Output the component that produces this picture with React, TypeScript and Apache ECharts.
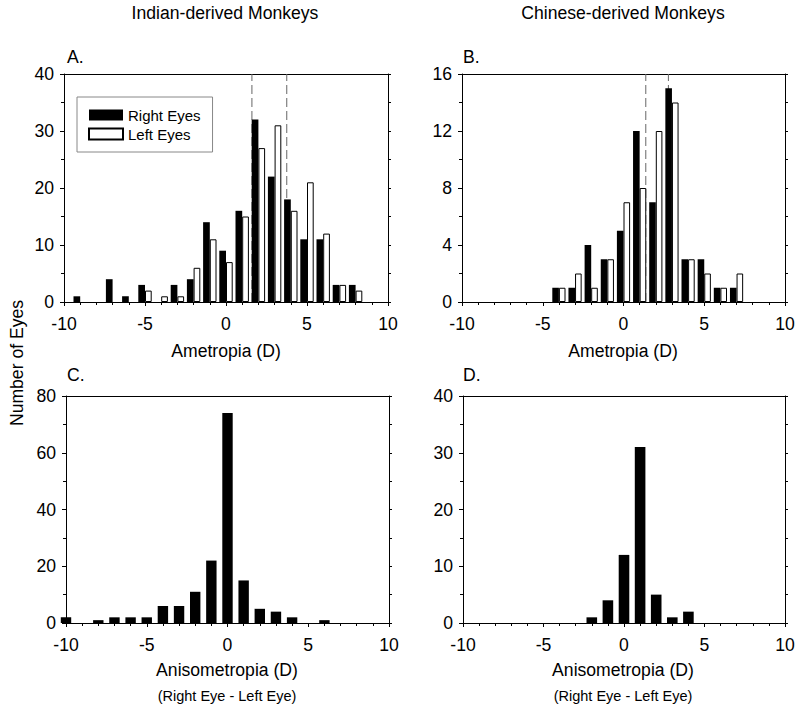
import React, { useEffect, useRef } from 'react';
import * as echarts from 'echarts';

// Panel A: Indian-derived monkeys, ametropia (D), bin centres and counts
const indianBins = [-9, -8, -7, -6, -5, -4, -3, -2, -1, 0, 1, 2, 3, 4, 5, 6, 7, 8];
const indianRight = [1, 0, 4, 1, 3, 0, 3, 4, 14, 9, 16, 32, 22, 18, 11, 11, 3, 3];
const indianLeft = [0, 0, 0, 0, 2, 1, 1, 6, 11, 7, 15, 27, 31, 16, 21, 12, 3, 2];
const indianRefLines = [1.6, 3.75];

// Panel B: Chinese-derived monkeys, ametropia (D)
const chineseBins = [-4, -3, -2, -1, 0, 1, 2, 3, 4, 5, 6, 7];
const chineseRight = [1, 1, 4, 3, 5, 12, 7, 15, 3, 3, 1, 1];
const chineseLeft = [1, 2, 1, 3, 7, 8, 12, 14, 3, 2, 1, 2];
const chineseRefLines = [1.38, 2.78];

// Panel C: Indian-derived anisometropia (right - left)
const anisoIndianBins = [-10, -9, -8, -7, -6, -5, -4, -3, -2, -1, 0, 1, 2, 3, 4, 5, 6];
const anisoIndianCounts = [2, 0, 1, 2, 2, 2, 6, 6, 11, 22, 74, 15, 5, 4, 2, 0, 1];

// Panel D: Chinese-derived anisometropia
const anisoChineseBins = [-2, -1, 0, 1, 2, 3, 4];
const anisoChineseCounts = [1, 4, 12, 31, 5, 1, 2];

const xMin = -10;
const xMax = 10;
const xInterval = 5;
const yMaxes = [40, 16, 80, 40];
const yIntervals = [10, 4, 20, 10];

const FONT = '"Liberation Sans", Arial, Helvetica, sans-serif';
const FS = 17.6;

const grids = [
  { left: 64, top: 74, width: 324, height: 228 },
  { left: 462, top: 74, width: 323, height: 228 },
  { left: 66, top: 396, width: 323, height: 227 },
  { left: 463, top: 396, width: 322, height: 227 },
];

const pairs = (bins: number[], vals: number[]) =>
  bins.map((b, i) => [b, vals[i]]).filter((d) => d[1] > 0);

function buildOption() {
  const xAxis: any[] = [];
  const yAxis: any[] = [];
  grids.forEach((_, g) => {
    xAxis.push({
      gridIndex: g,
      type: 'value',
      position: 'bottom',
      min: xMin,
      max: xMax,
      interval: xInterval,
      axisLine: { show: true, onZero: false, lineStyle: { color: '#000', width: 1 } },
      axisTick: { show: true, length: 4, lineStyle: { color: '#000' } },
      minorTick: { show: true, splitNumber: 5, length: 3, lineStyle: { color: '#000' } },
      splitLine: { show: false },
      axisLabel: { fontSize: FS, color: '#000', margin: 13, fontFamily: FONT },
    });
    xAxis.push({
      gridIndex: g,
      type: 'value',
      position: 'top',
      min: xMin,
      max: xMax,
      interval: xInterval,
      axisLine: { show: true, onZero: false, lineStyle: { color: '#000', width: 1 } },
      axisTick: { show: false },
      axisLabel: { show: false },
      splitLine: { show: false },
    });
    yAxis.push({
      gridIndex: g,
      type: 'value',
      position: 'left',
      min: 0,
      max: yMaxes[g],
      interval: yIntervals[g],
      axisLine: { show: true, onZero: false, lineStyle: { color: '#000', width: 1 } },
      axisTick: { show: true, length: 4, lineStyle: { color: '#000' } },
      minorTick: { show: true, splitNumber: 2, length: 3, lineStyle: { color: '#000' } },
      splitLine: { show: false },
      axisLabel: { fontSize: FS, color: '#000', margin: 10, fontFamily: FONT },
    });
    yAxis.push({
      gridIndex: g,
      type: 'value',
      position: 'right',
      min: 0,
      max: yMaxes[g],
      interval: yIntervals[g],
      axisLine: { show: true, onZero: false, lineStyle: { color: '#000', width: 1 } },
      axisTick: { show: true, length: 3, lineStyle: { color: '#000' } },
      minorTick: { show: true, splitNumber: 2, length: 3, lineStyle: { color: '#000' } },
      splitLine: { show: false },
      axisLabel: { show: false },
    });
  });

  const blackStyle = { color: '#000' };
  const whiteStyle = { color: '#fff', borderColor: '#000', borderWidth: 1 };

  const refLine = (g: number, x: number) => ({
    type: 'line',
    xAxisIndex: g * 2,
    yAxisIndex: g * 2,
    data: [
      [x, 0],
      [x, yMaxes[g]],
    ],
    symbol: 'none',
    silent: true,
    z: 1,
    lineStyle: { color: '#666', width: 1, type: [9, 4] },
  });

  const series: any[] = [
    {
      type: 'bar', name: 'Right Eyes', xAxisIndex: 0, yAxisIndex: 0,
      data: pairs(indianBins, indianRight), barWidth: 6.7, barGap: '0%', itemStyle: blackStyle, z: 3,
    },
    {
      type: 'bar', name: 'Left Eyes', xAxisIndex: 0, yAxisIndex: 0,
      data: pairs(indianBins, indianLeft), barWidth: 6.7, barGap: '0%', itemStyle: whiteStyle, z: 3,
    },
    ...indianRefLines.map((x) => refLine(0, x)),
    {
      type: 'bar', name: 'Right Eyes', xAxisIndex: 2, yAxisIndex: 2,
      data: pairs(chineseBins, chineseRight), barWidth: 6.6, barGap: '0%', itemStyle: blackStyle, z: 3,
    },
    {
      type: 'bar', name: 'Left Eyes', xAxisIndex: 2, yAxisIndex: 2,
      data: pairs(chineseBins, chineseLeft), barWidth: 6.6, barGap: '0%', itemStyle: whiteStyle, z: 3,
    },
    ...chineseRefLines.map((x) => refLine(1, x)),
    {
      type: 'bar', name: 'Anisometropia Indian', xAxisIndex: 4, yAxisIndex: 4,
      data: pairs(anisoIndianBins, anisoIndianCounts), barWidth: 10.4, itemStyle: blackStyle, z: 3,
    },
    {
      type: 'bar', name: 'Anisometropia Chinese', xAxisIndex: 6, yAxisIndex: 6,
      data: pairs(anisoChineseBins, anisoChineseCounts), barWidth: 10.6, itemStyle: blackStyle, z: 3,
    },
  ];

  const txt = (text: string, x: number, y: number, size = FS, align = 'center', rotation = 0) => ({
    type: 'text',
    x,
    y,
    rotation,
    silent: true,
    style: {
      text,
      fontSize: size,
      fontFamily: FONT,
      fill: '#000',
      align,
      verticalAlign: 'middle',
    },
  });

  const graphic = [
    txt('Indian-derived Monkeys', 225, 13),
    txt('Chinese-derived Monkeys', 623, 13),
    txt('A.', 67, 57, FS, 'left'),
    txt('B.', 463, 57, FS, 'left'),
    txt('C.', 67, 375, FS, 'left'),
    txt('D.', 463, 375, FS, 'left'),
    txt('Ametropia (D)', 226, 351),
    txt('Ametropia (D)', 623, 351),
    txt('Anisometropia (D)', 227, 670),
    txt('Anisometropia (D)', 623, 670),
    txt('(Right Eye - Left Eye)', 227, 696, 14.5),
    txt('(Right Eye - Left Eye)', 623, 696, 14.5),
    txt('Number of Eyes', 17, 363, FS, 'center', Math.PI / 2),
  ];

  return {
    animation: false,
    backgroundColor: '#fff',
    grid: grids.map((g) => ({ ...g, containLabel: false })),
    xAxis,
    yAxis,
    legend: {
      show: true,
      data: ['Right Eyes', 'Left Eyes'],
      orient: 'vertical',
      left: 77,
      top: 97,
      padding: [10, 12, 10, 11],
      itemWidth: 34,
      itemHeight: 11,
      itemGap: 3,
      icon: 'rect',
      selectedMode: false,
      borderColor: '#888',
      borderWidth: 1,
      textStyle: { fontSize: 15, fontFamily: FONT, color: '#000', lineHeight: 16 },
    },
    series,
    graphic,
  };
}

export default function App() {
  const ref = useRef<HTMLDivElement>(null);
  useEffect(() => {
    if (!ref.current) return;
    const chart = echarts.init(ref.current, undefined, { renderer: 'svg' });
    chart.setOption(buildOption() as any);
    return () => chart.dispose();
  }, []);
  return (
    <div
      ref={ref}
      style={{ position: 'fixed', left: 0, top: 0, width: 800, height: 709, background: '#fff' }}
    />
  );
}
